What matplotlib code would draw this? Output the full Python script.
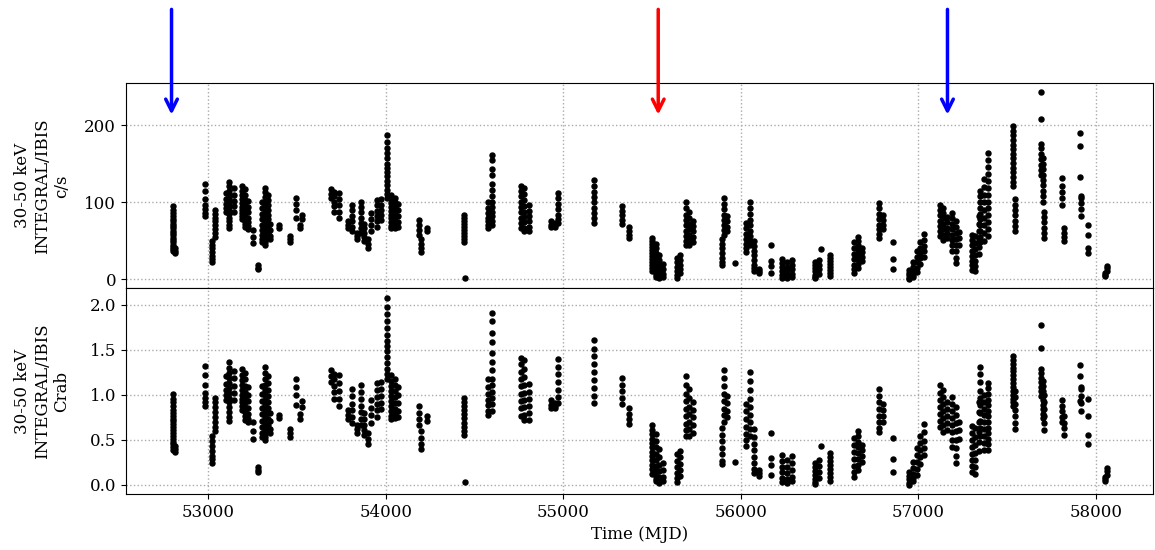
import numpy as np
import matplotlib
matplotlib.use("Agg")
import matplotlib.pyplot as plt

plt.rcParams['font.family'] = 'DejaVu Serif'
plt.rcParams['font.size'] = 12

# -- Light curve, grouped per observation: MJD, 30-50 keV rates (c/s), Crab rate (c/s) for that epoch
obs_mjd = [
    52800, 52815, 52985, 53020, 53040, 53100, 53120, 53145, 53190, 53205,
    53225, 53255, 53280, 53305, 53320, 53335, 53350, 53400, 53460, 53495,
    53515, 53530, 53690, 53710, 53735, 53790, 53810, 53840, 53860, 53880,
    53900, 53920, 53950, 53975, 54008, 54030, 54055, 54070, 54190, 54200,
    54235, 54440, 54447, 54578, 54600, 54760, 54778, 54810, 54932, 54955,
    54970, 55175, 55330, 55368, 55500, 55520, 55540, 55560, 55640, 55660,
    55690, 55710, 55730, 55895, 55905, 55920, 55966, 56030, 56050, 56075,
    56100, 56170, 56230, 56260, 56290, 56420, 56440, 56452, 56500, 56640,
    56660, 56680, 56780, 56800, 56860, 56950, 56970, 56990, 57010, 57030,
    57120, 57140, 57160, 57190, 57210, 57230, 57300, 57320, 57340, 57350,
    57370, 57390, 57535, 57542, 57690, 57700, 57705, 57810, 57818, 57910,
    57915, 57955, 58050, 58060,
]
obs_rate = [
    [95, 90, 86, 82, 78, 75, 72, 69, 66, 63, 60, 57, 54, 51, 48, 45, 42, 39, 36],
    [40, 37, 34],
    [124, 115, 104, 96, 91, 86, 82],
    [50, 45, 40, 35, 30, 26, 22],
    [90, 85, 80, 75, 70, 65, 60, 55],
    [112, 104, 98, 93, 88],
    [127, 121, 115, 110, 105, 100, 95, 90, 85, 80, 75, 70, 66],
    [118, 110, 102, 95, 88],
    [121, 115, 109, 104, 99, 94, 90, 86, 82, 78],
    [117, 110, 103, 97, 91, 86, 81, 76, 72, 68],
    [102, 94, 87, 80, 74, 69, 65],
    [64, 55, 47],
    [18, 15, 13],
    [100, 92, 85, 78, 71, 64, 58, 52, 48],
    [119, 113, 107, 101, 96, 91, 86, 81, 76, 72, 68, 64, 60, 56, 52, 48, 45],
    [110, 103, 96, 90, 84, 78, 72, 66, 60, 55],
    [72, 64, 56, 52],
    [70, 67],
    [56, 52, 48],
    [106, 98, 90, 80],
    [71, 66],
    [84, 78],
    [117, 111, 105],
    [113, 108, 101, 95, 88],
    [112, 104, 96, 88, 80],
    [75, 70, 66],
    [97, 90, 82, 75, 68, 62],
    [60, 56, 52],
    [101, 94, 87, 80, 73, 66, 60],
    [72, 66, 60, 55, 50],
    [52, 46, 41],
    [62, 70, 78, 86],
    [103, 96, 89, 82, 75, 68],
    [104, 97, 90, 83, 77],
    [187, 178, 171, 164, 157, 150, 144, 139, 134, 128, 122, 116, 111, 106],
    [110, 104, 99, 94, 89, 84, 79, 74, 69, 66],
    [106, 100, 94, 88, 82, 76, 71, 67],
    [98, 90, 82, 74, 68],
    [77, 70, 64, 58],
    [52, 46, 40, 35],
    [67, 62],
    [84, 80, 76, 72, 68, 64, 60, 56, 52, 48],
    [2],
    [100, 92, 86, 80, 75, 70, 66],
    [162, 155, 143, 135, 124, 116, 108, 100, 94, 88, 82, 76, 70],
    [121, 115, 108, 101, 94, 87, 80, 73, 66],
    [119, 111, 103, 95, 88, 81, 74, 67, 62],
    [96, 89, 82, 75, 68, 62],
    [75, 71, 68],
    [73, 70, 68],
    [112, 105, 98, 91, 84, 78, 73],
    [129, 121, 114, 107, 100, 93, 86, 79, 73],
    [95, 89, 83, 77, 72],
    [68, 63, 58, 54],
    [54, 50, 46, 42, 38, 34, 30, 26, 22, 18, 14, 10],
    [46, 40, 34, 28, 22, 17, 12, 8, 5, 3],
    [32, 25, 18, 12, 7, 3, 1],
    [20, 13, 7, 3],
    [28, 22, 16, 11, 6, 2],
    [31, 25, 19, 13, 8],
    [100, 92, 84, 77, 70, 63, 56, 50, 45],
    [88, 80, 72, 65, 58, 51, 45],
    [76, 69, 62, 55, 48],
    [52, 46, 40, 34, 28, 22, 19],
    [106, 98, 91, 84, 77, 70, 64, 58],
    [82, 75, 68, 62],
    [21],
    [73, 66, 59, 52, 46, 40, 35],
    [101, 93, 85, 77, 70, 63, 56, 50, 44],
    [50, 43, 37, 31, 25, 19, 14, 10],
    [13, 10, 8],
    [44, 23, 17, 8],
    [26, 21, 16, 11, 6, 2],
    [22, 16, 10, 5, 1],
    [25, 19, 13, 7, 3],
    [22, 18, 14, 10, 6, 3, 1],
    [25, 19, 13, 7],
    [39],
    [32, 28, 24, 20, 16, 12, 8, 4],
    [48, 40, 33, 26, 19, 13, 8],
    [55, 50, 44, 38, 32, 26, 20, 15],
    [41, 35, 29, 23],
    [99, 92, 85, 78, 71, 65, 59, 54],
    [83, 77, 71, 65],
    [48, 26, 13],
    [12, 8, 5, 2, 0],
    [22, 16, 10, 6, 3],
    [36, 29, 22, 15, 9],
    [48, 41, 34, 27, 20],
    [59, 51, 43, 36, 29],
    [97, 90, 83, 76, 69, 62, 56],
    [93, 86, 79, 72, 65, 58, 51],
    [81, 74, 67, 60, 53],
    [86, 79, 72, 65, 58, 51, 44, 37],
    [76, 68, 60, 52, 44, 36, 28, 21],
    [61, 53, 45],
    [58, 51, 44, 37, 30, 24, 18, 12],
    [56, 47, 39, 31, 24, 17, 10],
    [82, 72, 62, 52, 42, 33],
    [115, 108, 100, 92, 85, 78, 70, 62, 55, 48],
    [130, 120, 110, 100, 90, 80, 70, 60, 50],
    [164, 155, 146, 137, 128, 119, 110, 101, 92, 83, 74, 65, 56],
    [199, 193, 187, 181, 175, 169, 163, 157, 151, 145, 139, 133, 127, 121],
    [104, 97, 90, 83, 76, 69, 62],
    [243, 208, 176, 170, 163, 156, 149, 142, 135],
    [158, 150, 143, 136, 129, 122, 115, 108, 101],
    [88, 81, 74, 67, 60, 53],
    [131, 121, 113, 105, 97],
    [67, 60, 55, 49],
    [190, 173, 133],
    [108, 106, 99, 91, 82],
    [71, 57, 41, 34],
    [4, 6, 8],
    [10, 14, 17],
]
crab_cps = [
    94, 94, 94, 93, 93, 93, 93, 93, 94, 94,
    94, 92, 91, 91, 91, 91, 91, 90, 90, 90,
    90, 90, 92, 92, 92, 91, 91, 91, 91, 91,
    91, 91, 91, 91, 90, 90, 90, 90, 88, 88,
    88, 87, 87, 85, 85, 86, 86, 86, 80, 80,
    80, 80, 80, 80, 82, 82, 82, 82, 83, 83,
    83, 83, 83, 83, 83, 83, 83, 81, 81, 81,
    81, 77, 80, 80, 80, 90, 90, 90, 90, 92,
    92, 92, 93, 93, 92, 88, 88, 88, 88, 88,
    88, 88, 88, 88, 88, 88, 89, 89, 89, 88,
    130, 145, 139, 100, 137, 137, 88, 139, 88, 143,
    100, 75, 90, 90,
]

# arrows marking the epochs of interest
blue_mjd = [52794, 57164]
red_mjd = [55535]

t = np.concatenate([[m] * len(r) for m, r in zip(obs_mjd, obs_rate)])
rate = np.concatenate([np.array(r, float) for r in obs_rate])
crab = np.concatenate([np.array(r, float) / c for r, c in zip(obs_rate, crab_cps)])

fig, (ax1, ax2) = plt.subplots(2, 1, sharex=True, figsize=(11.55, 5.5), dpi=100)
fig.subplots_adjust(left=0.109, right=0.9985, top=0.849, bottom=0.102, hspace=0)

ax1.plot(t, rate, 'o', color='k', ms=3.6)
ax2.plot(t, crab, 'o', color='k', ms=3.6)

for ax in (ax1, ax2):
    ax.grid(True, ls=':', color='#aaaaaa', lw=1)
ax1.set_yticks([0, 100, 200])
ax2.set_yticks([0.0, 0.5, 1.0, 1.5, 2.0])
ax1.set_ylabel('30-50 keV\nINTEGRAL/IBIS\nc/s', labelpad=10)
ax2.set_ylabel('30-50 keV\nINTEGRAL/IBIS\nCrab', labelpad=10)
ax2.set_xlabel('Time (MJD)')

for m in blue_mjd:
    ax1.annotate('', xy=(m, 214), xytext=(m, 351), annotation_clip=False,
                 arrowprops=dict(arrowstyle='->,head_length=0.7,head_width=0.35',
                                 color='blue', lw=2.5, shrinkA=0, shrinkB=0))
for m in red_mjd:
    ax1.annotate('', xy=(m, 214), xytext=(m, 351), annotation_clip=False,
                 arrowprops=dict(arrowstyle='->,head_length=0.7,head_width=0.35',
                                 color='red', lw=2.5, shrinkA=0, shrinkB=0))

fig.align_ylabels([ax1, ax2])
plt.savefig('out.png')
